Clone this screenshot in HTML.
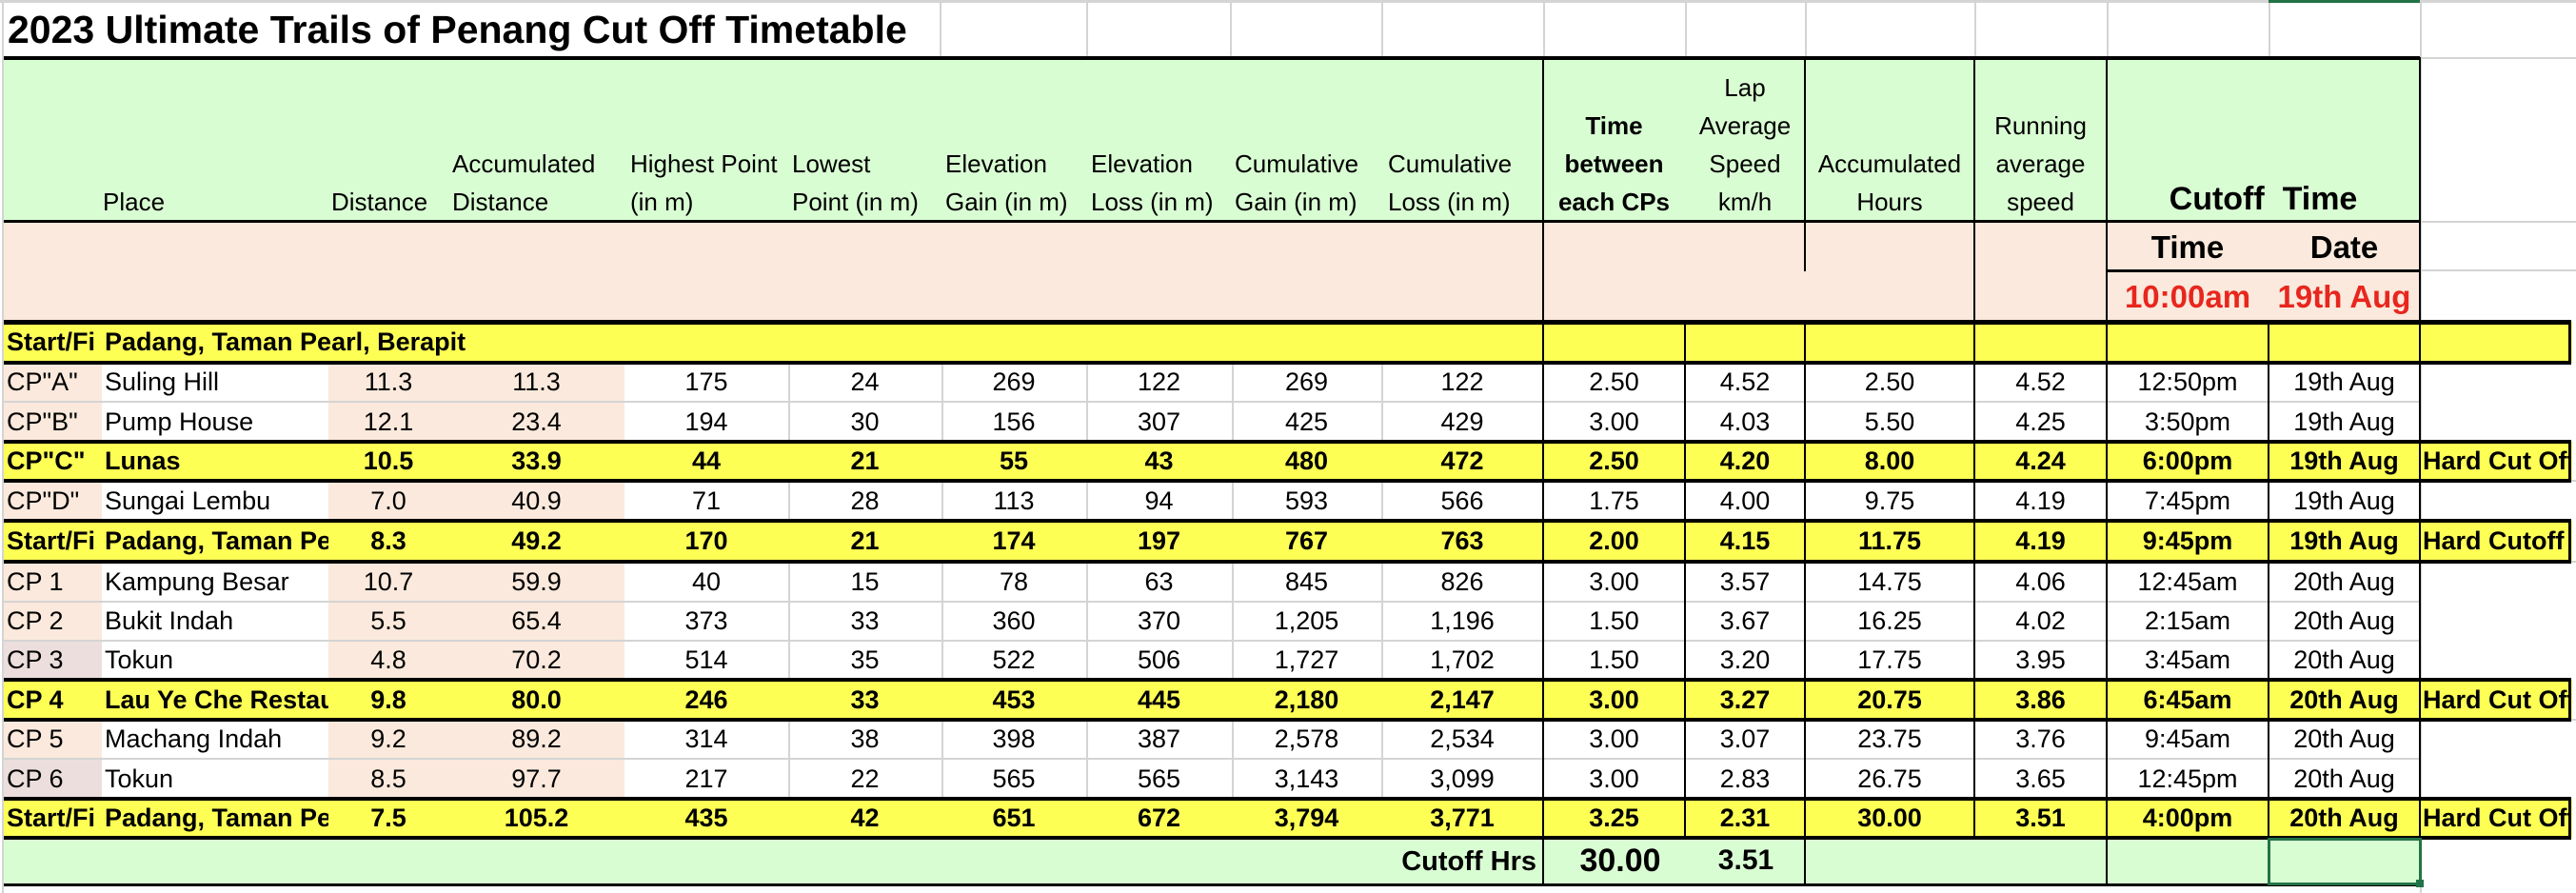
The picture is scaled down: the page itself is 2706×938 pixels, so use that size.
<!DOCTYPE html>
<html><head><meta charset="utf-8"><style>
*{margin:0;padding:0;box-sizing:border-box}
body{width:2706px;height:938px;background:#fff;position:relative;overflow:hidden;font-family:"Liberation Sans",Arial,sans-serif;color:#000}
.a{position:absolute}
.r{position:absolute;left:4px;display:flex;font-size:27px}
.r>div{overflow:hidden;white-space:nowrap;text-align:center;height:100%}
.r>div:nth-child(1){width:103px;text-align:left;padding-left:3px}
.r>div:nth-child(2){width:238px;text-align:left;padding-left:3px}
.r>div:nth-child(3){width:126px}
.r>div:nth-child(4){width:185px}
.r>div:nth-child(5){width:172px}
.r>div:nth-child(6){width:161px}
.r>div:nth-child(7){width:152px}
.r>div:nth-child(8){width:153px}
.r>div:nth-child(9){width:157px}
.r>div:nth-child(10){width:170px}
.r>div:nth-child(11){width:149px}
.r>div:nth-child(12){width:126px}
.r>div:nth-child(13){width:178px}
.r>div:nth-child(14){width:139px}
.r>div:nth-child(15){width:170px}
.r>div:nth-child(16){width:159px}
.r>div:nth-child(17){width:158px;text-align:left;padding-left:3px;overflow:hidden}
.w>div:nth-child(1),.w>div:nth-child(3),.w>div:nth-child(4){background:#FAE9DC}
.w.pk>div:nth-child(1){background:#EDDEDE}
.y{background:#FEFF55;font-weight:bold}
.y>div:nth-child(2){overflow:hidden}
.h{position:absolute;font-size:26px;line-height:40px;white-space:nowrap}
.hc{text-align:center}
.bl{position:absolute;background:#000}
.gl{position:absolute;background:#d4d4d4}
</style></head><body>
<div class="gl" style="left:0;top:0;width:2706px;height:3px"></div>
<div class="gl" style="left:987px;top:0;width:2px;height:60px"></div>
<div class="gl" style="left:1141px;top:0;width:2px;height:60px"></div>
<div class="gl" style="left:1292px;top:0;width:2px;height:60px"></div>
<div class="gl" style="left:1451px;top:0;width:2px;height:60px"></div>
<div class="gl" style="left:1621px;top:0;width:2px;height:60px"></div>
<div class="gl" style="left:1770px;top:0;width:2px;height:60px"></div>
<div class="gl" style="left:1896px;top:0;width:2px;height:60px"></div>
<div class="gl" style="left:2074px;top:0;width:2px;height:60px"></div>
<div class="gl" style="left:2213px;top:0;width:2px;height:60px"></div>
<div class="gl" style="left:2383px;top:0;width:2px;height:60px"></div>
<div class="gl" style="left:2542px;top:0;width:2px;height:938px"></div>
<div class="gl" style="left:2542px;top:60px;width:164px;height:2px"></div>
<div class="gl" style="left:2542px;top:232px;width:164px;height:2px"></div>
<div class="gl" style="left:2542px;top:283px;width:164px;height:2px"></div>
<div style="position:absolute;left:2383px;top:0;width:159px;height:3px;background:#217346"></div>
<div class="a" style="left:8px;top:6px;font-size:41px;font-weight:bold;line-height:50px;white-space:nowrap">2023 Ultimate Trails of Penang Cut Off Timetable</div>

<div class="a" style="left:4px;top:61px;width:2538px;height:172px;background:#D9FDD3"></div>
<div class="a" style="left:4px;top:233px;width:2538px;height:105px;background:#FAE9DC"></div>
<div class="bl" style="left:4px;top:59px;width:2538px;height:4px"></div>
<div class="bl" style="left:4px;top:231px;width:2538px;height:3px"></div>
<div class="bl" style="left:1620px;top:60px;width:2px;height:278px"></div>
<div class="bl" style="left:1895px;top:60px;width:2px;height:225px"></div>
<div class="bl" style="left:2073px;top:60px;width:2px;height:278px"></div>
<div class="bl" style="left:2212px;top:60px;width:2px;height:278px"></div>
<div class="bl" style="left:2541px;top:60px;width:2px;height:278px"></div>
<div class="bl" style="left:2213px;top:283px;width:329px;height:3px"></div>

<div class="h" style="left:108px;top:192px">Place</div>
<div class="h" style="left:348px;top:192px">Distance</div>
<div class="h" style="left:475px;top:152px">Accumulated<br>Distance</div>
<div class="h" style="left:662px;top:152px">Highest Point<br>(in m)</div>
<div class="h" style="left:832px;top:152px">Lowest<br>Point (in m)</div>
<div class="h" style="left:993px;top:152px">Elevation<br>Gain (in m)</div>
<div class="h" style="left:1146px;top:152px">Elevation<br>Loss (in m)</div>
<div class="h" style="left:1297px;top:152px">Cumulative<br>Gain (in m)</div>
<div class="h" style="left:1458px;top:152px">Cumulative<br>Loss (in m)</div>
<div class="h hc" style="left:1621px;width:149px;top:112px;font-weight:bold">Time<br>between<br>each CPs</div>
<div class="h hc" style="left:1770px;width:126px;top:72px">Lap<br>Average<br>Speed<br>km/h</div>
<div class="h hc" style="left:1896px;width:178px;top:152px">Accumulated<br>Hours</div>
<div class="h hc" style="left:2074px;width:139px;top:112px">Running<br>average<br>speed</div>
<div class="h hc" style="left:2213px;width:329px;top:186px;font-size:34px;font-weight:bold;line-height:46px">Cutoff&nbsp; Time</div>
<div class="h hc" style="left:2213px;width:170px;top:237px;font-size:33px;font-weight:bold;line-height:46px">Time</div>
<div class="h hc" style="left:2383px;width:159px;top:237px;font-size:33px;font-weight:bold;line-height:46px">Date</div>
<div class="h hc" style="left:2213px;width:170px;top:289px;font-size:33px;font-weight:bold;line-height:46px;color:#E8261E">10:00am</div>
<div class="h hc" style="left:2383px;width:159px;top:289px;font-size:33px;font-weight:bold;line-height:46px;color:#E8261E;overflow:hidden">19th Aug</div>

<div class="r y" style="top:338px;height:43px;line-height:43px;width:2698px"><div>Start/Fi</div><div style="overflow:visible">Padang, Taman Pearl, Berapit</div><div></div><div></div><div></div><div></div><div></div><div></div><div></div><div></div><div></div><div></div><div></div><div></div><div></div><div></div><div></div></div>
<div class="r w" style="top:381px;height:41px;line-height:41px"><div>CP"A"</div><div>Suling Hill</div><div>11.3</div><div>11.3</div><div>175</div><div>24</div><div>269</div><div>122</div><div>269</div><div>122</div><div>2.50</div><div>4.52</div><div>2.50</div><div>4.52</div><div>12:50pm</div><div>19th Aug</div><div></div></div>
<div class="r w" style="top:422px;height:42px;line-height:42px"><div>CP"B"</div><div>Pump House</div><div>12.1</div><div>23.4</div><div>194</div><div>30</div><div>156</div><div>307</div><div>425</div><div>429</div><div>3.00</div><div>4.03</div><div>5.50</div><div>4.25</div><div>3:50pm</div><div>19th Aug</div><div></div></div>
<div class="r y" style="top:464px;height:41px;line-height:41px;width:2698px"><div>CP"C"</div><div>Lunas</div><div>10.5</div><div>33.9</div><div>44</div><div>21</div><div>55</div><div>43</div><div>480</div><div>472</div><div>2.50</div><div>4.20</div><div>8.00</div><div>4.24</div><div>6:00pm</div><div>19th Aug</div><div>Hard Cut Off</div></div>
<div class="r w" style="top:505px;height:42px;line-height:42px"><div>CP"D"</div><div>Sungai Lembu</div><div>7.0</div><div>40.9</div><div>71</div><div>28</div><div>113</div><div>94</div><div>593</div><div>566</div><div>1.75</div><div>4.00</div><div>9.75</div><div>4.19</div><div>7:45pm</div><div>19th Aug</div><div></div></div>
<div class="r y" style="top:547px;height:43px;line-height:43px;width:2698px"><div>Start/Fi</div><div>Padang, Taman Pea</div><div>8.3</div><div>49.2</div><div>170</div><div>21</div><div>174</div><div>197</div><div>767</div><div>763</div><div>2.00</div><div>4.15</div><div>11.75</div><div>4.19</div><div>9:45pm</div><div>19th Aug</div><div>Hard Cutoff</div></div>
<div class="r w" style="top:590px;height:42px;line-height:42px"><div>CP 1</div><div>Kampung Besar</div><div>10.7</div><div>59.9</div><div>40</div><div>15</div><div>78</div><div>63</div><div>845</div><div>826</div><div>3.00</div><div>3.57</div><div>14.75</div><div>4.06</div><div>12:45am</div><div>20th Aug</div><div></div></div>
<div class="r w" style="top:632px;height:41px;line-height:41px"><div>CP 2</div><div>Bukit Indah</div><div>5.5</div><div>65.4</div><div>373</div><div>33</div><div>360</div><div>370</div><div>1,205</div><div>1,196</div><div>1.50</div><div>3.67</div><div>16.25</div><div>4.02</div><div>2:15am</div><div>20th Aug</div><div></div></div>
<div class="r w pk" style="top:673px;height:41px;line-height:41px"><div>CP 3</div><div>Tokun</div><div>4.8</div><div>70.2</div><div>514</div><div>35</div><div>522</div><div>506</div><div>1,727</div><div>1,702</div><div>1.50</div><div>3.20</div><div>17.75</div><div>3.95</div><div>3:45am</div><div>20th Aug</div><div></div></div>
<div class="r y" style="top:714px;height:42px;line-height:42px;width:2698px"><div>CP 4</div><div>Lau Ye Che Restaur</div><div>9.8</div><div>80.0</div><div>246</div><div>33</div><div>453</div><div>445</div><div>2,180</div><div>2,147</div><div>3.00</div><div>3.27</div><div>20.75</div><div>3.86</div><div>6:45am</div><div>20th Aug</div><div>Hard Cut Off</div></div>
<div class="r w" style="top:756px;height:41px;line-height:41px"><div>CP 5</div><div>Machang Indah</div><div>9.2</div><div>89.2</div><div>314</div><div>38</div><div>398</div><div>387</div><div>2,578</div><div>2,534</div><div>3.00</div><div>3.07</div><div>23.75</div><div>3.76</div><div>9:45am</div><div>20th Aug</div><div></div></div>
<div class="r w pk" style="top:797px;height:42px;line-height:42px"><div>CP 6</div><div>Tokun</div><div>8.5</div><div>97.7</div><div>217</div><div>22</div><div>565</div><div>565</div><div>3,143</div><div>3,099</div><div>3.00</div><div>2.83</div><div>26.75</div><div>3.65</div><div>12:45pm</div><div>20th Aug</div><div></div></div>
<div class="r y" style="top:839px;height:41px;line-height:41px;width:2698px"><div>Start/Fi</div><div>Padang, Taman Pea</div><div>7.5</div><div>105.2</div><div>435</div><div>42</div><div>651</div><div>672</div><div>3,794</div><div>3,771</div><div>3.25</div><div>2.31</div><div>30.00</div><div>3.51</div><div>4:00pm</div><div>20th Aug</div><div>Hard Cut Off</div></div>

<div class="gl" style="left:4px;top:421px;width:2538px;height:2px"></div>
<div class="gl" style="left:4px;top:631px;width:2538px;height:2px"></div>
<div class="gl" style="left:4px;top:672px;width:2538px;height:2px"></div>
<div class="gl" style="left:4px;top:796px;width:2538px;height:2px"></div>
<div class="gl" style="left:2542px;top:504px;width:164px;height:2px"></div>
<div class="gl" style="left:2542px;top:589px;width:164px;height:2px"></div>
<div class="gl" style="left:2542px;top:755px;width:164px;height:2px"></div>
<div class="gl" style="left:828px;top:381px;width:2px;height:83px"></div>
<div class="gl" style="left:989px;top:381px;width:2px;height:83px"></div>
<div class="gl" style="left:1141px;top:381px;width:2px;height:83px"></div>
<div class="gl" style="left:1294px;top:381px;width:2px;height:83px"></div>
<div class="gl" style="left:1451px;top:381px;width:2px;height:83px"></div>
<div class="gl" style="left:828px;top:505px;width:2px;height:42px"></div>
<div class="gl" style="left:989px;top:505px;width:2px;height:42px"></div>
<div class="gl" style="left:1141px;top:505px;width:2px;height:42px"></div>
<div class="gl" style="left:1294px;top:505px;width:2px;height:42px"></div>
<div class="gl" style="left:1451px;top:505px;width:2px;height:42px"></div>
<div class="gl" style="left:828px;top:590px;width:2px;height:124px"></div>
<div class="gl" style="left:989px;top:590px;width:2px;height:124px"></div>
<div class="gl" style="left:1141px;top:590px;width:2px;height:124px"></div>
<div class="gl" style="left:1294px;top:590px;width:2px;height:124px"></div>
<div class="gl" style="left:1451px;top:590px;width:2px;height:124px"></div>
<div class="gl" style="left:828px;top:756px;width:2px;height:83px"></div>
<div class="gl" style="left:989px;top:756px;width:2px;height:83px"></div>
<div class="gl" style="left:1141px;top:756px;width:2px;height:83px"></div>
<div class="gl" style="left:1294px;top:756px;width:2px;height:83px"></div>
<div class="gl" style="left:1451px;top:756px;width:2px;height:83px"></div>
<div class="gl" style="left:2px;top:0;width:2px;height:938px"></div>

<div class="bl" style="left:1620px;top:338px;width:2px;height:590px"></div>
<div class="bl" style="left:1769px;top:338px;width:2px;height:542px"></div>
<div class="bl" style="left:1895px;top:338px;width:2px;height:590px"></div>
<div class="bl" style="left:2073px;top:338px;width:2px;height:542px"></div>
<div class="bl" style="left:2212px;top:338px;width:2px;height:590px"></div>
<div class="bl" style="left:2382px;top:338px;width:2px;height:542px"></div>
<div class="bl" style="left:2541px;top:338px;width:2px;height:542px"></div>
<div class="bl" style="left:2698px;top:338px;width:3px;height:43px"></div>
<div class="bl" style="left:2698px;top:464px;width:3px;height:41px"></div>
<div class="bl" style="left:2698px;top:547px;width:3px;height:43px"></div>
<div class="bl" style="left:2698px;top:714px;width:3px;height:42px"></div>
<div class="bl" style="left:2698px;top:839px;width:3px;height:41px"></div>
<div class="bl" style="left:4px;top:336px;width:2697px;height:5px"></div>
<div class="bl" style="left:4px;top:379px;width:2697px;height:4px"></div>
<div class="bl" style="left:4px;top:462px;width:2697px;height:4px"></div>
<div class="bl" style="left:4px;top:503px;width:2697px;height:4px"></div>
<div class="bl" style="left:4px;top:545px;width:2697px;height:4px"></div>
<div class="bl" style="left:4px;top:588px;width:2697px;height:4px"></div>
<div class="bl" style="left:4px;top:712px;width:2697px;height:4px"></div>
<div class="bl" style="left:4px;top:754px;width:2697px;height:4px"></div>
<div class="bl" style="left:4px;top:837px;width:2697px;height:4px"></div>
<div class="bl" style="left:4px;top:878px;width:2697px;height:4px"></div>

<div class="a" style="left:4px;top:882px;width:1616px;height:46px;background:#D9FDD3"></div>
<div class="a" style="left:1622px;top:882px;width:273px;height:46px;background:#D9FDD3"></div>
<div class="a" style="left:1897px;top:882px;width:315px;height:46px;background:#D9FDD3"></div>
<div class="a" style="left:2214px;top:882px;width:328px;height:46px;background:#D9FDD3"></div>
<div class="bl" style="left:4px;top:928px;width:2538px;height:3px"></div>
<div class="a" style="left:2382px;top:880px;width:162px;height:50px;border:3px solid #217346"></div>
<div class="a" style="left:2538px;top:924px;width:8px;height:8px;background:#217346"></div>
<div class="a" style="left:1300px;top:882px;width:314px;line-height:46px;text-align:right;font-size:29px;font-weight:bold">Cutoff Hrs</div>
<div class="a" style="left:1622px;top:880px;width:160px;line-height:48px;text-align:center;font-size:34px;font-weight:bold">30.00</div>
<div class="a" style="left:1772px;top:880px;width:124px;line-height:48px;text-align:center;font-size:30px;font-weight:bold">3.51</div>
</body></html>
